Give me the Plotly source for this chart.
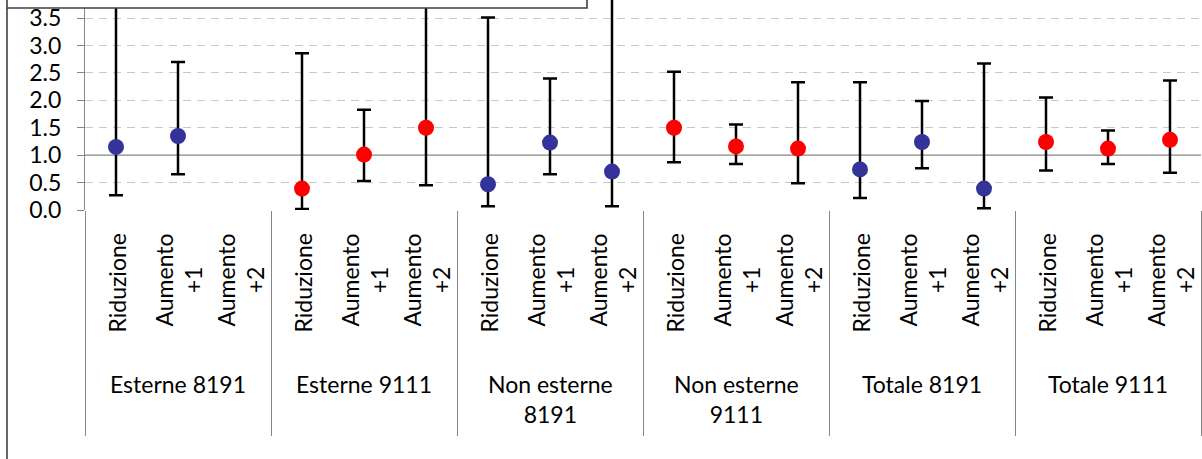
import plotly.graph_objects as go

# ---- data -------------------------------------------------------------
groups = ["Esterne 8191", "Esterne 9111", "Non esterne<br>8191",
          "Non esterne<br>9111", "Totale 8191", "Totale 9111"]
subcats = ["Riduzione", "Aumento<br>+1", "Aumento<br>+2"]

# series "8191" -> groups 0, 2, 4 ; series "9111" -> groups 1, 3, 5
groups_8191 = [0, 2, 4]
groups_9111 = [1, 3, 5]

est_8191 = [1.15, 1.35, None, 0.47, 1.23, 0.70, 0.74, 1.24, 0.39]
lo_8191 = [0.27, 0.65, None, 0.07, 0.65, 0.07, 0.22, 0.76, 0.03]
hi_8191 = [5.00, 2.70, None, 3.51, 2.40, 5.50, 2.33, 1.99, 2.67]

est_9111 = [0.39, 1.01, 1.50, 1.50, 1.16, 1.12, 1.24, 1.12, 1.28]
lo_9111 = [0.02, 0.53, 0.45, 0.87, 0.84, 0.49, 0.72, 0.84, 0.68]
hi_9111 = [2.86, 1.83, 4.60, 2.52, 1.56, 2.33, 2.05, 1.45, 2.36]

y_ticks = [0.0, 0.5, 1.0, 1.5, 2.0, 2.5, 3.0, 3.5]
ref_line = 1.0  # horizontal axis crosses here

FONT = "Lato"
nsub = len(subcats)


def build(groups_idx, est, lo, hi):
    xs, ys, up, dn = [], [], [], []
    k = 0
    for g in groups_idx:
        for s in range(nsub):
            if est[k] is not None:
                xs.append(g * nsub + s)
                ys.append(est[k])
                up.append(hi[k] - est[k])
                dn.append(est[k] - lo[k])
            k += 1
    return xs, ys, up, dn


fig = go.Figure()
for name, gi, est, lo, hi, col in [
    ("8191", groups_8191, est_8191, lo_8191, hi_8191, "#333399"),
    ("9111", groups_9111, est_9111, lo_9111, hi_9111, "#FF0000"),
]:
    xs, ys, up, dn = build(gi, est, lo, hi)
    fig.add_trace(go.Scatter(
        x=xs, y=ys, mode="markers", name=name,
        marker=dict(size=16, color=col, line=dict(width=0)),
        error_y=dict(type="data", symmetric=False, array=up, arrayminus=dn,
                     color="black", thickness=2.5, width=7),
        showlegend=False, hoverinfo="skip",
    ))

ncat = len(groups) * nsub
boundaries = [g * nsub - 0.5 for g in range(len(groups) + 1)]
grid_vals = [v for v in y_ticks if v != ref_line]

fig.update_layout(
    width=1202, height=459,
    margin=dict(l=85, r=1, t=0, b=249, autoexpand=False),
    paper_bgcolor="white", plot_bgcolor="white",
    font=dict(family=FONT, size=23, color="black"),
    xaxis=dict(range=[-0.5, ncat - 0.5], showgrid=False, zeroline=False,
               showline=False, tickmode="array", tickvals=boundaries,
               ticks="outside", ticklen=225, tickwidth=1,
               tickcolor="#868686", showticklabels=False, automargin=False),
    yaxis=dict(range=[0, 3.83], tickmode="array", tickvals=y_ticks,
               tickformat=".1f", showgrid=False, zeroline=False,
               showline=True, linecolor="#868686", linewidth=1,
               ticks="outside", ticklen=7, tickcolor="#868686",
               ticklabelstandoff=11, automargin=False,
               tickfont=dict(family=FONT, size=23, color="black"),
               minor=dict(tickmode="array", tickvals=grid_vals, showgrid=True,
                          gridcolor="#C8C8C8", griddash="8px,6px",
                          gridwidth=1, ticks="")),
)

# horizontal axis line crossing at 1.0
fig.add_shape(type="line", xref="x domain", x0=0, x1=1, yref="y",
              y0=ref_line, y1=ref_line,
              line=dict(color="#868686", width=1.2), layer="below")

# category labels
annos = []
for g in range(len(groups)):
    for s, lab in enumerate(subcats):
        annos.append(dict(x=g * nsub + s, xref="x", y=0, yref="paper",
                          yanchor="top", yshift=-22, text=lab, textangle=-90,
                          showarrow=False, align="center",
                          font=dict(family=FONT, size=23, color="black")))
    annos.append(dict(x=g * nsub + (nsub - 1) / 2, xref="x", y=0, yref="paper",
                      yanchor="top", yshift=-158, text=groups[g],
                      showarrow=False, align="center",
                      font=dict(family=FONT, size=23, color="black")))
fig.update_layout(annotations=annos)

# outer chart frame pieces and overlapping box at top-left
px_w, px_h = 1116.0, 210.0
def px_x(p):
    return (p - 85) / px_w
def px_y(p):
    return (210 - p) / px_h

fig.add_shape(type="rect", xref="paper", yref="paper",
              x0=px_x(7), x1=px_x(587), y0=px_y(8), y1=px_y(-6),
              fillcolor="white", line=dict(color="#404040", width=1.6),
              layer="above")
fig.add_shape(type="line", xref="paper", yref="paper",
              x0=px_x(7), x1=px_x(7), y0=px_y(8), y1=px_y(470),
              line=dict(color="#404040", width=1.6), layer="above")

fig.write_html("out.html",
               config={"displayModeBar": False},
               post_script="document.body.style.margin='0px';")
